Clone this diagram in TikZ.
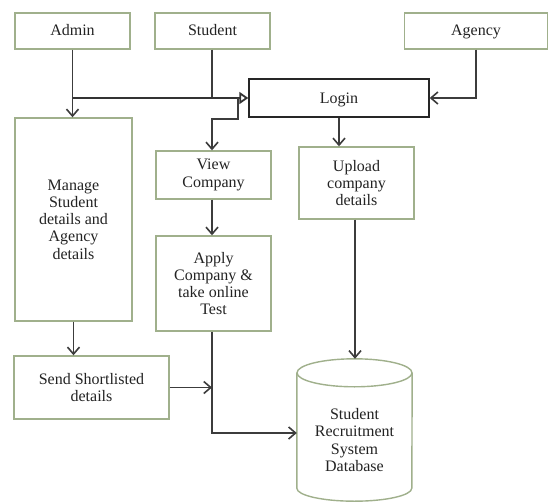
\documentclass[tikz,border=0pt]{standalone}
\usepackage{fontspec}
\setmainfont{Liberation Serif}
\usetikzlibrary{arrows.meta,calc}
\definecolor{boxline}{RGB}{160,176,140}
\definecolor{conn}{RGB}{60,60,60}
\definecolor{txtc}{RGB}{35,35,35}
\tikzset{
  box/.style={draw=boxline, line width=1.4pt, fill=white, align=center, inner sep=2pt,
    text=txtc, font=\fontsize{16}{17.3}\selectfont},
  onebox/.style={box, text height=13pt, text depth=3pt},
  loginbox/.style={onebox, draw=black!85},
  conline/.style={draw=conn, line width=1.9pt},
  arr/.style={conline, -{Straight Barb[length=7pt,width=12pt,line width=1.6pt]}},
  mainline/.style={draw=black!80, line width=2.8pt, -{Triangle[open,length=9pt,width=12pt,line width=1.8pt]}},
}
\begin{document}
\begin{tikzpicture}[x=1pt,y=-1pt]
\useasboundingbox[fill=white] (0,0) rectangle (552,503);
% nodes
\node[onebox, minimum width=115, minimum height=36] (admin) at (72.5,31) {Admin};
\node[onebox, minimum width=115, minimum height=36] (student) at (212.5,31) {Student};
\node[onebox, minimum width=143, minimum height=36] (agency) at (476,31) {Agency};
\node[loginbox, minimum width=180, minimum height=38] (login) at (339,98) {Login};
\node[box, minimum width=117, minimum height=203] (manage) at (73.5,219.5) {Manage\\Student\\details and\\Agency\\details};
\node[box, minimum width=115, minimum height=48] (view) at (213.5,175) {View\\Company};
\node[box, minimum width=115, minimum height=95] (apply) at (213.5,283.5) {Apply\\Company \&\\take online\\Test};
\node[box, minimum width=115, minimum height=72] (upload) at (356.5,183) {Upload\\company\\details};
\node[box, minimum width=155, minimum height=63] (send) at (91.5,387.5) {Send Shortlisted\\details};
% database cylinder
\node[minimum width=115, minimum height=142, inner sep=0pt] (db) at (354.5,430) {};
\draw[draw=boxline, line width=1.4pt, fill=white]
  ($(db.north west)+(0,14)$) -- ($(db.south west)+(0,-13)$)
  arc[start angle=180, end angle=360, x radius=57.5, y radius=-13]
  -- ($(db.north east)+(0,14)$);
\draw[draw=boxline, line width=1.4pt] ($(db.north)+(0,14)$) ellipse[x radius=57.5, y radius=14];
\node[text=txtc, align=center, font=\fontsize{16}{17.3}\selectfont] (dbtext) at ($(db.center)+(0,10)$) {Student\\Recruitment\\System\\Database};
% connectors
\coordinate (adminJ) at (admin.south |- login.west);
\coordinate (splitJ) at ($(login.west)+(-10,0)$);
\draw[arr] (admin.south) -- (admin.south |- manage.north);
\draw[conline] (student.south -| 212,0) -- (212,98);
\draw[mainline] (adminJ) -- (login.west);
\draw[arr] (agency.south) |- (login.east);
\draw[arr] (splitJ) -- ++(0,21) -| (212,0 |- view.north);
\draw[arr] (login.south) -- (login.south |- upload.north);
\draw[arr] (212,0 |- view.south) -- (212,0 |- apply.north);
\draw[arr] (manage.south) -- (manage.south |- send.north);
\coordinate (sendJ) at (212,0 |- send.east);
\draw[arr] (send.east) -- (sendJ);
\draw[arr] (212,0 |- apply.south) |- ($(db.west)+(0,3)$);
\draw[arr] (355,0 |- upload.south) -- (355,0 |- db.north);
\end{tikzpicture}
\end{document}
